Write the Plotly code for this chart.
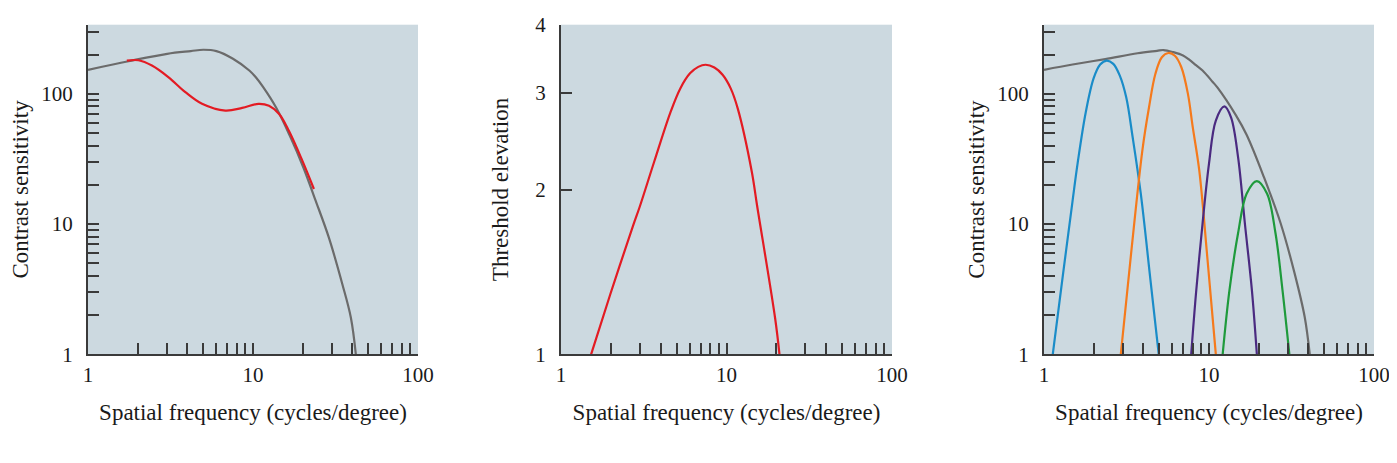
import plotly.graph_objects as go

# left panel: contrast sensitivity before / after adaptation
csf_left_x = [1.0, 1.76, 3.02, 4.2, 5.0, 6.0, 7.56, 9.5, 10.4, 11.5, 13.8, 16.7, 20.2, 23.8, 28.8, 34.8, 39.2, 42.0]
csf_left_y = [153, 178, 203, 213, 218, 213, 186, 151, 134, 113, 78.5, 47.8, 27.2, 15.5, 7.9, 3.45, 1.91, 1.0]

adapt_x = [1.72, 2.02, 2.44, 3.08, 3.89, 4.91, 6.8, 8.6, 10.8, 12.5, 14.4, 16.5, 19.9, 23.4]
adapt_y = [180, 181, 165, 134, 103, 83.8, 74.4, 78, 83.8, 81, 70, 52, 30.7, 18.6]

# middle panel: threshold elevation
thr_x = [1.52, 1.99, 2.73, 2.99, 3.66, 4.59, 5.26, 6.02, 6.75, 7.48, 8.45, 9.47, 10.6, 11.7, 14.2, 15.3, 19.7, 20.9]
thr_y = [1.0, 1.29, 1.72, 1.86, 2.25, 2.77, 3.06, 3.26, 3.35, 3.38, 3.34, 3.24, 3.06, 2.81, 2.16, 1.87, 1.16, 1.0]

# right panel: envelope + four channels
csf_right_x = [1.0, 1.49, 2.35, 3.69, 4.84, 5.3, 6.08, 6.96, 7.62, 8.34, 9.14, 10.5, 11.3, 14.6, 16.9, 21.5, 27.2, 33.0, 38.0, 40.8]
csf_right_y = [153, 168, 185, 205, 214, 217, 209, 197, 182, 166, 151, 124, 111, 68, 48.5, 23.0, 10.1, 4.2, 1.94, 1.0]

blue_x = [1.13, 1.30, 1.49, 1.60, 1.79, 2.0, 2.19, 2.40, 2.63, 2.88, 3.15, 3.45, 3.86, 4.42, 4.96]
blue_y = [1.0, 4.0, 15.1, 29.5, 72, 132, 168, 180, 170, 138, 94, 46, 17.1, 3.7, 1.0]
orange_x = [2.92, 3.37, 3.95, 4.33, 4.73, 5.18, 5.68, 6.21, 6.80, 7.45, 7.98, 8.73, 9.8, 11.0]
orange_y = [1.0, 5.9, 37.2, 78.9, 142, 191, 206, 196, 160, 100, 55, 25.8, 5.3, 1.0]
purple_x = [7.8, 8.34, 9.14, 10.0, 11.0, 12.4, 13.6, 15.0, 16.5, 18.2, 19.5]
purple_y = [1.0, 2.93, 10.1, 29.1, 62.4, 80, 66, 32.7, 10.1, 3.1, 1.0]
green_x = [12.1, 13.3, 15.0, 16.9, 19.5, 22.5, 25.3, 27.9, 30.7]
green_y = [1.0, 3.1, 8.5, 17.1, 21.4, 17.1, 8.5, 3.1, 1.0]

x_ticks = [1, 2, 3, 4, 5, 6, 7, 8, 9, 10, 20, 30, 40, 50, 60, 70, 80, 90, 100]
x_labels = ["1", "", "", "", "", "", "", "", "", "10", "", "", "", "", "", "", "", "", "100"]
cs_ticks = [1, 2, 3, 4, 5, 6, 7, 8, 9, 10, 20, 30, 40, 50, 60, 70, 80, 90, 100, 200, 300]
cs_labels = ["1", "", "", "", "", "", "", "", "", "10", "", "", "", "", "", "", "", "", "100", "", ""]
thr_ticks = [1, 2, 3, 4]

BG = "#ccd9e0"
GRAY = "#6b6b6b"
RED = "#e31b23"
AXIS = "#3a3a3a"
TICKFONT = dict(family="Liberation Serif", size=21, color="#1a1a1a")
TITLEFONT = dict(family="Liberation Serif", size=23, color="#1a1a1a")
# page has an 8px body margin, so the figure is 8px smaller than the window
OFF = 8
W, H = 1397 - OFF, 463 - OFF

fig = go.Figure()

def line(x, y, color, xa, ya):
    fig.add_trace(go.Scatter(x=x, y=y, mode="lines", xaxis=xa, yaxis=ya,
                             line=dict(color=color, width=2.2, shape="spline", smoothing=1.0),
                             showlegend=False, hoverinfo="skip"))

line(csf_left_x, csf_left_y, GRAY, "x", "y")
line(adapt_x, adapt_y, RED, "x", "y")
line(thr_x, thr_y, RED, "x2", "y2")
line(csf_right_x, csf_right_y, GRAY, "x3", "y3")
line(blue_x, blue_y, "#1a8cc8", "x3", "y3")
line(orange_x, orange_y, "#f57a1c", "x3", "y3")
line(purple_x, purple_y, "#4a2a80", "x3", "y3")
line(green_x, green_y, "#1e9a3c", "x3", "y3")

# pixel boxes of the three plot areas (page coordinates)
boxes = [(88, 418), (561, 892), (1044, 1374)]
ytop, ybot = 24.7, 354.3
ydom = [1 - (ybot - OFF) / H, 1 - (ytop - OFF) / H]
ystand = [11, 20, 6]

xtitle = "Spatial frequency (cycles/degree)"
common = dict(type="log", showline=True, linecolor=AXIS, linewidth=2, mirror=False,
              ticks="inside", ticklen=11, tickwidth=1.5, tickcolor=AXIS,
              showgrid=False, zeroline=False, tickfont=TICKFONT, automargin=False)

layout = dict(width=W, height=H, margin=dict(l=0, r=0, t=0, b=0),
              paper_bgcolor="white", plot_bgcolor=BG, font=TICKFONT)

for i, (x0, x1) in enumerate(boxes):
    sfx = "" if i == 0 else str(i + 1)
    layout["xaxis" + sfx] = dict(common, domain=[(x0 - OFF) / W, (x1 - OFF) / W], range=[0, 2],
                                 tickvals=x_ticks, ticktext=x_labels, ticklabelstandoff=0,
                                 anchor="y" + sfx,
                                 title=dict(text=xtitle, font=TITLEFONT, standoff=18))
    if i == 1:
        yax = dict(common, range=[0, 0.60206], tickvals=thr_ticks,
                   ticktext=[str(t) for t in thr_ticks],
                   title=dict(text="Threshold elevation", font=TITLEFONT, standoff=ystand[i]))
    else:
        yax = dict(common, range=[0, 2.531], tickvals=cs_ticks, ticktext=cs_labels,
                   title=dict(text="Contrast sensitivity", font=TITLEFONT, standoff=ystand[i]))
    yax.update(domain=ydom, anchor="x" + sfx, ticklabelstandoff=9)
    layout["yaxis" + sfx] = yax

fig.update_layout(**layout)
fig.write_html("out.html")
